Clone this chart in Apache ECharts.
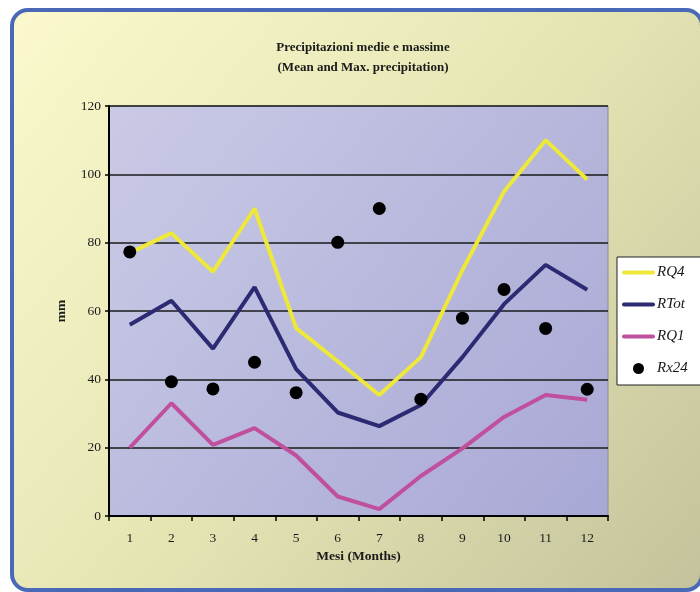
<!DOCTYPE html>
<html>
<head>
<meta charset="utf-8">
<style>
  html, body { margin: 0; padding: 0; background: #ffffff; }
  #chart { width: 700px; height: 592px; }
</style>
<script src="https://cdn.jsdelivr.net/npm/echarts@6/dist/echarts.min.js"></script>
</head>
<body>
<div id="chart"></div>
<script>
// Monthly precipitation (mm)
const months = ['1', '2', '3', '4', '5', '6', '7', '8', '9', '10', '11', '12'];
const rq4  = [77, 82.8, 71.5, 90, 55, 45.3, 35.4, 46.5, 72, 95, 110, 98.5];
const rtot = [56, 63, 49, 67, 43, 30.3, 26.3, 32.5, 46.5, 62, 73.5, 66.2];
const rq1  = [20, 33, 20.8, 25.7, 17.7, 5.7, 2, 11.7, 19.8, 29, 35.4, 34];
const rx24 = [77.3, 39.3, 37.2, 45, 36.1, 80.1, 90, 34.2, 57.9, 66.3, 54.9, 37.1];
const yTicks = { min: 0, max: 120, interval: 20 };

const serif = '"Liberation Serif", "DejaVu Serif", serif';
// thick rounded bar used as the legend icon of the line series
const lineIcon = 'path://M2,0 L31,0 A2,2 0 0 1 31,4 L2,4 A2,2 0 0 1 2,0 Z';

const chart = echarts.init(document.getElementById('chart'), null, { renderer: 'canvas' });

chart.setOption({
  animation: false,
  backgroundColor: '#ffffff',
  graphic: [{
    type: 'rect',
    z: -10,
    silent: true,
    shape: { x: 12, y: 10, width: 690, height: 580, r: 16 },
    style: {
      fill: new echarts.graphic.LinearGradient(0, 0, 1, 1, [
        { offset: 0, color: '#fbf9cd' },
        { offset: 0.5, color: '#e5e5b4' },
        { offset: 1, color: '#c3c29c' }
      ]),
      stroke: '#4a68b8',
      lineWidth: 4
    }
  }],
  title: {
    text: 'Precipitazioni medie e massime\n(Mean and Max. precipitation)',
    left: 358,
    top: 33,
    textAlign: 'center',
    textStyle: {
      fontFamily: serif,
      fontWeight: 'bold',
      fontSize: 13,
      lineHeight: 20,
      color: '#1a1a1a'
    }
  },
  legend: {
    orient: 'vertical',
    left: 617,
    top: 257,
    backgroundColor: '#ffffff',
    borderColor: '#222222',
    borderWidth: 1,
    borderRadius: 0,
    padding: [8, 30, 9, 5],
    itemWidth: 33,
    itemHeight: 11,
    itemGap: 17,
    textStyle: {
      fontFamily: serif,
      fontStyle: 'italic',
      fontSize: 15,
      color: '#1a1a1a',
      padding: [0, 0, 0, -3]
    },
    data: [
      { name: 'RQ4', icon: lineIcon },
      { name: 'RTot', icon: lineIcon },
      { name: 'RQ1', icon: lineIcon },
      { name: 'Rx24', icon: 'circle' }
    ]
  },
  grid: {
    left: 109,
    top: 106,
    width: 499,
    height: 410,
    show: true,
    borderColor: '#8c8c8c',
    borderWidth: 1,
    backgroundColor: new echarts.graphic.LinearGradient(0, 0, 1, 1, [
      { offset: 0, color: '#cacae6' },
      { offset: 1, color: '#a8a8d5' }
    ])
  },
  xAxis: {
    type: 'category',
    data: months,
    boundaryGap: true,
    name: 'Mesi (Months)',
    nameLocation: 'middle',
    nameGap: 34,
    nameTextStyle: {
      fontFamily: serif,
      fontWeight: 'bold',
      fontSize: 13.5,
      color: '#1a1a1a',
      verticalAlign: 'top'
    },
    axisLine: { lineStyle: { color: '#000000', width: 2 } },
    axisTick: { show: true, length: 5, alignWithLabel: false, lineStyle: { color: '#000000', width: 1.5 } },
    axisLabel: { margin: 15, fontFamily: serif, fontSize: 13.5, color: '#1a1a1a' },
    splitLine: { show: false }
  },
  yAxis: {
    type: 'value',
    min: yTicks.min,
    max: yTicks.max,
    interval: yTicks.interval,
    name: 'mm',
    nameLocation: 'middle',
    nameGap: 40,
    nameRotate: 90,
    nameTextStyle: {
      fontFamily: serif,
      fontWeight: 'bold',
      fontSize: 13.5,
      color: '#1a1a1a'
    },
    axisLine: { show: true, lineStyle: { color: '#000000', width: 2 } },
    axisTick: { show: true, length: 4, lineStyle: { color: '#000000', width: 1.5 } },
    axisLabel: { margin: 8, fontFamily: serif, fontSize: 13.5, color: '#1a1a1a' },
    splitLine: {
      show: true,
      lineStyle: { color: '#1a1a1a', width: 1.5 }
    }
  },
  series: [
    {
      name: 'RQ4',
      type: 'line',
      data: rq4,
      symbol: 'none',
      color: '#ede83a',
      lineStyle: { color: '#ede83a', width: 4 },
      z: 3
    },
    {
      name: 'RTot',
      type: 'line',
      data: rtot,
      symbol: 'none',
      color: '#2b2a72',
      lineStyle: { color: '#2b2a72', width: 4 },
      z: 3
    },
    {
      name: 'RQ1',
      type: 'line',
      data: rq1,
      symbol: 'none',
      color: '#c0509e',
      lineStyle: { color: '#c0509e', width: 4 },
      z: 3
    },
    {
      name: 'Rx24',
      type: 'scatter',
      data: rx24,
      symbol: 'circle',
      symbolSize: 13,
      itemStyle: { color: '#000000', opacity: 1 },
      z: 5
    }
  ]
});
</script>
</body>
</html>
